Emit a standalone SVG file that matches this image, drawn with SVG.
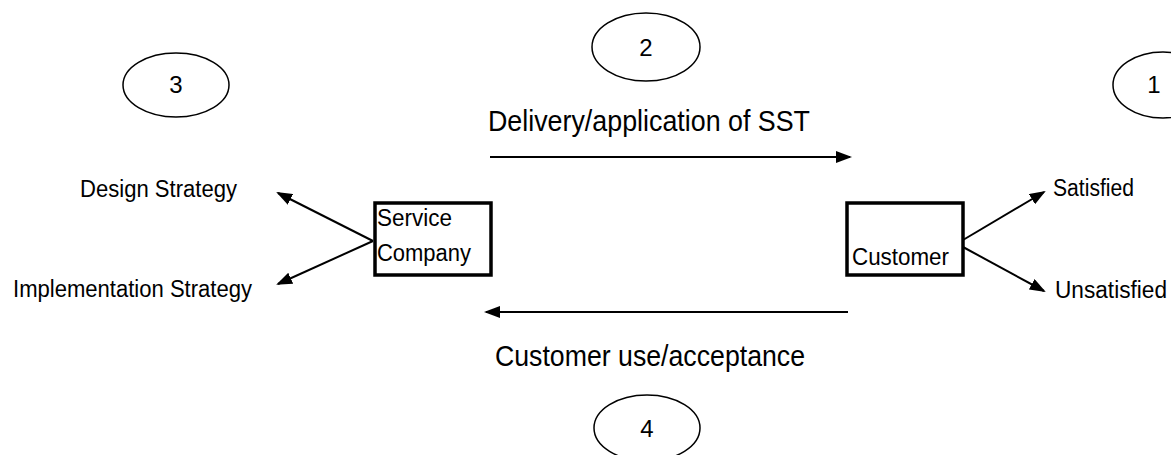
<svg xmlns="http://www.w3.org/2000/svg" width="1171" height="455" viewBox="0 0 1171 455">
<style>
text{font-family:"Liberation Sans",Arial,sans-serif;fill:#000}
.lbl{font-size:23px}
.big{font-size:29px}
.num{font-size:24px}
.oval{fill:none;stroke:#000;stroke-width:1.5}
.box{fill:#fff;stroke:#000;stroke-width:3.5}
.conn{fill:none;stroke:#000;stroke-width:2;marker-end:url(#ah)}
</style>
<defs>
<marker id="ah" viewBox="0 0 16 12" refX="14" refY="6" markerWidth="16" markerHeight="12" markerUnits="userSpaceOnUse" orient="auto">
<path d="M0,0 L16,6 L0,12 Z" fill="#000"/>
</marker>
</defs>
<rect width="1171" height="455" fill="#fff"/>
<g id="oval3"><ellipse class="oval" cx="176" cy="85" rx="53" ry="32"/><text class="num" x="176" y="93" text-anchor="middle">3</text></g>
<g id="oval2"><ellipse class="oval" cx="646" cy="47" rx="54" ry="34"/><text class="num" x="646" y="56" text-anchor="middle">2</text></g>
<g id="oval1"><ellipse class="oval" cx="1163" cy="85" rx="50" ry="33"/><text class="num" x="1154" y="93" text-anchor="middle">1</text></g>
<g id="oval4"><ellipse class="oval" cx="647" cy="428" rx="53" ry="33"/><text class="num" x="647" y="437" text-anchor="middle">4</text></g>
<g id="label-delivery"><text class="big" x="488" y="131" textLength="322" lengthAdjust="spacingAndGlyphs">Delivery/application of SST</text></g>
<g id="label-use"><text class="big" x="495" y="366" textLength="310" lengthAdjust="spacingAndGlyphs">Customer use/acceptance</text></g>
<g id="design"><text class="lbl" x="80" y="197" textLength="157" lengthAdjust="spacingAndGlyphs">Design Strategy</text></g>
<g id="implementation"><text class="lbl" x="13" y="297" textLength="239" lengthAdjust="spacingAndGlyphs">Implementation Strategy</text></g>
<g id="satisfied"><text class="lbl" x="1053" y="196" textLength="81" lengthAdjust="spacingAndGlyphs">Satisfied</text></g>
<g id="unsatisfied"><text class="lbl" x="1055" y="298" textLength="112" lengthAdjust="spacingAndGlyphs">Unsatisfied</text></g>
<g id="service-company"><rect class="box" x="375" y="203" width="116" height="72"/><text class="lbl" x="377" y="226" textLength="75" lengthAdjust="spacingAndGlyphs">Service</text><text class="lbl" x="377" y="261" textLength="94" lengthAdjust="spacingAndGlyphs">Company</text></g>
<g id="customer"><rect class="box" x="847" y="203" width="116" height="72"/><text class="lbl" x="852" y="265" textLength="97" lengthAdjust="spacingAndGlyphs">Customer</text></g>
<g id="connectors">
<line class="conn" x1="490" y1="157" x2="850" y2="157"/>
<line class="conn" x1="848" y1="312" x2="486" y2="312"/>
<line class="conn" x1="373" y1="241" x2="278" y2="193"/>
<line class="conn" x1="373" y1="241" x2="278" y2="284"/>
<line class="conn" x1="963" y1="240" x2="1044" y2="192"/>
<line class="conn" x1="963" y1="247" x2="1044" y2="291"/>
</g>
</svg>
